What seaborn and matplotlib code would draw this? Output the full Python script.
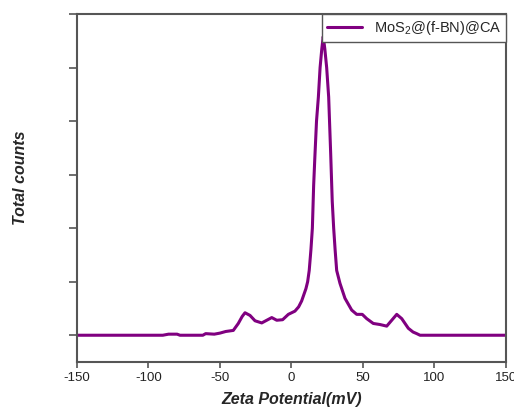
import matplotlib
matplotlib.use("Agg")
import matplotlib.pyplot as plt
import seaborn as sns
import pandas as pd

zeta_mv = [-150, -90, -86, -80, -78, -62, -60, -54, -50, -46, -40.7, -37.2, -34.5, -32.5, -29, -25.5,
           -20.8, -17.3, -13.8, -10.3, -6.2, -2.2, 2.4, 5, 7.1, 10.1, 11.3, 12.4, 13.6, 14.6,
           15.5, 16.3, 17.5, 18.8, 20.0, 21.2, 22.2, 23.3, 24.6, 26.0, 27.4, 28.5, 29.5,
           30.5, 31.6, 33.9, 37.4, 42.1, 45.6, 49.5, 52.6, 57.2, 61.9, 66.6, 70.1, 73.6,
           77.1, 81.7, 85, 87.6, 89.9, 150]
total_counts = [0, 0, 0.02, 0.02, 0, 0, 0.03, 0.02, 0.04, 0.07, 0.09, 0.22, 0.35, 0.42, 0.37, 0.27,
                0.23, 0.28, 0.33, 0.28, 0.29, 0.39, 0.45, 0.53, 0.64, 0.87, 1.0, 1.21, 1.6, 2.0,
                2.8, 3.3, 4.0, 4.45, 5.0, 5.35, 5.58, 5.35, 5.0, 4.45, 3.4, 2.5, 2.0,
                1.6, 1.21, 0.97, 0.69, 0.47, 0.39, 0.39, 0.31, 0.22, 0.2, 0.17, 0.28, 0.39,
                0.31, 0.13, 0.06, 0.03, 0.0, 0]
series_name = "MoS$_2$@(f-BN)@CA"
x_ticks = [-150, -100, -50, 0, 50, 100, 150]
y_ticks = [0, 1, 2, 3, 4, 5, 6]

sns.set_style("ticks")
plt.rcParams['font.family'] = ['Liberation Sans', 'DejaVu Sans']
plt.rcParams['axes.unicode_minus'] = False
plt.rcParams['mathtext.fontset'] = 'custom'
plt.rcParams['mathtext.rm'] = 'Liberation Sans'

df = pd.DataFrame({"zeta": zeta_mv, "counts": total_counts, "sample": series_name})

fig = plt.figure(figsize=(5.14, 4.11), dpi=100)
ax = fig.add_axes([0.1498, 0.1192, 0.8346, 0.8467])
sns.lineplot(data=df, x="zeta", y="counts", hue="sample", palette=["#800080"],
             linewidth=2.2, ax=ax, solid_joinstyle='round', solid_capstyle='round')

ax.set_xlim(-150, 150)
ax.set_ylim(-0.5, 6)
ax.set_xticks(x_ticks)
ax.set_xticklabels([str(v) for v in x_ticks], fontsize=9.5, color="#222222")
ax.set_yticks(y_ticks)
ax.set_yticklabels([])
ax.tick_params(axis='y', direction='out', length=6, width=1.2, color="#555555")
ax.tick_params(axis='x', direction='out', length=4, width=1.2, color="#555555", pad=3)
for s in ax.spines.values():
    s.set_visible(True)
    s.set_color("#555555")
    s.set_linewidth(1.5)

ax.set_xlabel("Zeta Potential(mV)", fontsize=11.5, fontweight='bold', fontstyle='italic', labelpad=6)
ax.set_ylabel("")
fig.text(0.04, 0.567, "Total counts", rotation=90, fontsize=11.5, fontweight='bold',
         fontstyle='italic', ha='center', va='center')

leg = ax.legend(loc='upper right', borderaxespad=0, fancybox=False, edgecolor="#555555",
                fontsize=10.5, handlelength=2.4, framealpha=1, borderpad=0.35, title=None)
leg.get_frame().set_linewidth(1.0)

fig.savefig("out.png", dpi=100)
